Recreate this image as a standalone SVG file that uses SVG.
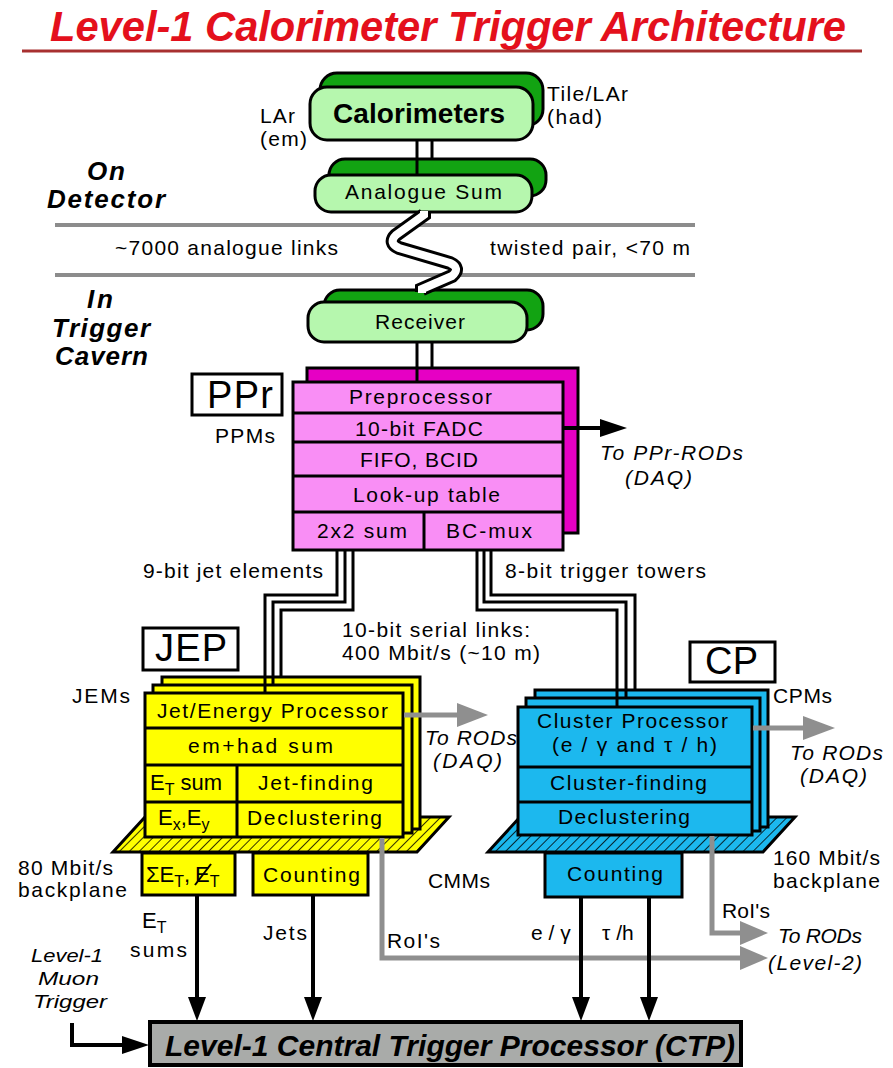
<svg xmlns="http://www.w3.org/2000/svg" width="893" height="1068" viewBox="0 0 893 1068">
<style>
.s{stroke:#000;stroke-width:3}
.gf{fill:#b6f7ae}.gb{fill:#12a312}
.pf{fill:#f98ef5}.pb{fill:#e600c4}
.ye{fill:#ffff00}.cy{fill:#1cb8ee}
.t{font-family:"Liberation Sans",Arial,Helvetica,sans-serif;font-size:21px;fill:#000}
.it{font-style:italic}.bd{font-weight:bold}
.big{font-size:38px}
.zn{font-size:26px}
.mu{font-size:18px}
.ln{fill:none;stroke:#000;stroke-width:3}
.ga{fill:none;stroke:#8f8f8f;stroke-width:5}
.gh{fill:#8f8f8f}
.ba{fill:none;stroke:#000;stroke-width:4}
.sub{font-size:16px}
</style>
<defs>
<pattern id="hy" width="7" height="7" patternUnits="userSpaceOnUse" patternTransform="rotate(45)"><rect width="7" height="7" fill="#ffff00"/><line x1="0" y1="0" x2="0" y2="7" stroke="#000" stroke-width="1.6"/></pattern>
<pattern id="hc" width="7" height="7" patternUnits="userSpaceOnUse" patternTransform="rotate(45)"><rect width="7" height="7" fill="#1cb8ee"/><line x1="0" y1="0" x2="0" y2="7" stroke="#000" stroke-width="1.6"/></pattern>
</defs>
<rect width="893" height="1068" fill="#fff"/>

<g id="title">
<text class="t it bd" x="50" y="41" textLength="796" lengthAdjust="spacingAndGlyphs" style="fill:#e4101c;font-size:43px">Level-1 Calorimeter Trigger Architecture</text>
<line x1="22" y1="51" x2="862" y2="51" stroke="#a83030" stroke-width="3"/>
</g>

<g id="zones">
<line x1="55" y1="225" x2="695" y2="225" stroke="#8c8c8c" stroke-width="4"/>
<line x1="55" y1="275" x2="695" y2="275" stroke="#8c8c8c" stroke-width="4"/>
<text class="t it bd zn" x="87" y="180" textLength="38">On</text>
<text class="t it bd zn" x="47" y="208" textLength="118">Detector</text>
<text class="t" x="115" y="255" textLength="223">~7000 analogue links</text>
<text class="t" x="490" y="255" textLength="200">twisted pair, &lt;70 m</text>
<text class="t it bd zn" x="87" y="308" textLength="26">In</text>
<text class="t it bd zn" x="52" y="337" textLength="98">Trigger</text>
<text class="t it bd zn" x="55" y="365" textLength="93">Cavern</text>
</g>

<g id="calorimeters">
<rect class="s gb" x="320" y="73" width="223" height="53" rx="17"/>
<rect class="s gf" x="310" y="87" width="223" height="53" rx="17"/>
<text class="t bd" x="333" y="123" textLength="172" style="font-size:28px">Calorimeters</text>
<text class="t" x="260" y="123" textLength="35">LAr</text>
<text class="t" x="260" y="146" textLength="47">(em)</text>
<text class="t" x="547" y="101" textLength="81">Tile/LAr</text>
<text class="t" x="547" y="124" textLength="55">(had)</text>
</g>

<g id="analogue-sum">
<rect class="s gb" x="329" y="159" width="217" height="37" rx="16"/>
<rect class="s gf" x="315" y="175" width="217" height="37" rx="16"/>
<text class="t" x="345" y="199" textLength="157">Analogue Sum</text>
</g>

<g id="receiver">
<rect class="s gb" x="324" y="290" width="219" height="40" rx="16"/>
<rect class="s gf" x="308" y="302" width="219" height="40" rx="16"/>
<text class="t" x="375" y="329" textLength="90">Receiver</text>
</g>

<g id="ppr">
<rect class="s" x="192" y="374" width="90" height="41" fill="#fff"/>
<text class="t big" x="207" y="408" textLength="66">PPr</text>
<text class="t" x="215" y="443" textLength="60">PPMs</text>
<rect class="s pb" x="307" y="368" width="271" height="165"/>
<rect class="s pf" x="293" y="382" width="270" height="168"/>
<line class="s" x1="293" y1="413" x2="563" y2="413"/>
<line class="s" x1="293" y1="442" x2="563" y2="442"/>
<line class="s" x1="293" y1="476" x2="563" y2="476"/>
<line class="s" x1="293" y1="512" x2="563" y2="512"/>
<line class="s" x1="424" y1="512" x2="424" y2="550"/>
<text class="t" x="349" y="404" textLength="143">Preprocessor</text>
<text class="t" x="355" y="436" textLength="128">10-bit FADC</text>
<text class="t" x="360" y="467" textLength="118">FIFO, BCID</text>
<text class="t" x="353" y="502" textLength="147">Look-up table</text>
<text class="t" x="317" y="538" textLength="90">2x2 sum</text>
<text class="t" x="446" y="538" textLength="86">BC-mux</text>
<text class="t it" x="600" y="460" textLength="143">To PPr-RODs</text>
<text class="t it" x="625" y="485" textLength="67">(DAQ)</text>
</g>

<g id="link-labels">
<text class="t" x="143" y="578" textLength="180">9-bit jet elements</text>
<text class="t" x="505" y="578" textLength="201">8-bit trigger towers</text>
<text class="t" x="342" y="637" textLength="188">10-bit serial links:</text>
<text class="t" x="342" y="660" textLength="198">400 Mbit/s  (~10 m)</text>
</g>

<g id="jep">
<rect class="s" x="143" y="628" width="95" height="42" fill="#fff"/>
<text class="t big" x="155" y="661" textLength="72">JEP</text>
<text class="t" x="72" y="703" textLength="58">JEMs</text>
<polygon class="s" points="113,852 417,852 449,817 145,817" fill="url(#hy)"/>
<rect class="s ye" x="162" y="677" width="258" height="152"/>
<rect class="s ye" x="153" y="685" width="259" height="148"/>
<rect class="s ye" x="145" y="693" width="258" height="144"/>
<line class="s" x1="145" y1="728" x2="403" y2="728"/>
<line class="s" x1="145" y1="765" x2="403" y2="765"/>
<line class="s" x1="145" y1="802" x2="403" y2="802"/>
<line class="s" x1="237" y1="765" x2="237" y2="837"/>
<text class="t" x="157" y="718" textLength="231">Jet/Energy Processor</text>
<text class="t" x="188" y="753" textLength="145">em+had  sum</text>
<text class="t" x="150" y="790" style="font-size:22px">E<tspan class="sub" dy="5">T</tspan><tspan dy="-5" dx="6">sum</tspan></text>
<text class="t" x="258" y="790" textLength="115">Jet-finding</text>
<text class="t" x="158" y="825" style="font-size:22px">E<tspan class="sub" dy="5">x</tspan><tspan dy="-5">,E</tspan><tspan class="sub" dy="5">y</tspan></text>
<text class="t" x="247" y="825" textLength="135">Declustering</text>
<rect class="s ye" x="142" y="853" width="93" height="42"/>
<rect class="s ye" x="253" y="853" width="115" height="42"/>
<text class="t" x="146" y="882" style="font-size:22px">ΣE<tspan class="sub" dy="5">T</tspan><tspan dy="-5">,</tspan></text>
<text class="t" x="195" y="882" style="font-size:22px">E<tspan class="sub" dy="5">T</tspan></text>
<line x1="195" y1="885" x2="211" y2="864" stroke="#000" stroke-width="2"/>
<text class="t" x="263" y="882" textLength="97">Counting</text>
<text class="t" x="18" y="875" textLength="95">80 Mbit/s</text>
<text class="t" x="18" y="897" textLength="109">backplane</text>
<text class="t it" x="425" y="745" textLength="92">To RODs</text>
<text class="t it" x="433" y="768" textLength="69">(DAQ)</text>
</g>

<g id="cp">
<rect class="s" x="690" y="642" width="85" height="40" fill="#fff"/>
<text class="t big" x="705" y="674" textLength="53">CP</text>
<text class="t" x="773" y="703" textLength="59">CPMs</text>
<polygon class="s" points="488,852 763,852 795,817 520,817" fill="url(#hc)"/>
<rect class="s cy" x="535" y="690" width="233" height="137"/>
<rect class="s cy" x="526" y="698" width="234" height="133"/>
<rect class="s cy" x="518" y="707" width="234" height="128"/>
<line class="s" x1="518" y1="767" x2="752" y2="767"/>
<line class="s" x1="518" y1="802" x2="752" y2="802"/>
<text class="t" x="537" y="728" textLength="191">Cluster Processor</text>
<text class="t" x="552" y="752" textLength="165">(e / γ  and τ / h)</text>
<text class="t" x="550" y="790" textLength="157">Cluster-finding</text>
<text class="t" x="558" y="824" textLength="132">Declustering</text>
<rect class="s cy" x="545" y="853" width="137" height="44"/>
<text class="t" x="567" y="881" textLength="96">Counting</text>
<text class="t" x="428" y="888" textLength="62">CMMs</text>
<text class="t" x="773" y="865" textLength="107">160 Mbit/s</text>
<text class="t" x="773" y="888" textLength="107">backplane</text>
<text class="t it" x="790" y="760" textLength="93">To RODs</text>
<text class="t it" x="800" y="783" textLength="67">(DAQ)</text>
</g>

<g id="level2-labels">
<text class="t" x="722" y="918" textLength="48">RoI's</text>
<text class="t" x="387" y="948" textLength="53">RoI's</text>
<text class="t it" x="778" y="943" textLength="84">To RODs</text>
<text class="t it" x="768" y="970" textLength="94">(Level-2)</text>
</g>

<g id="output-labels">
<text class="t" x="142" y="928" style="font-size:22px">E<tspan class="sub" dy="5">T</tspan></text>
<text class="t" x="130" y="957" textLength="57">sums</text>
<text class="t" x="263" y="940" textLength="44">Jets</text>
<text class="t" x="531" y="940">e / γ</text>
<text class="t" x="602" y="940">τ /h</text>
</g>

<g id="muon">
<text class="t it mu" x="31" y="962" textLength="72" lengthAdjust="spacingAndGlyphs">Level-1</text>
<text class="t it mu" x="38" y="985" textLength="61" lengthAdjust="spacingAndGlyphs">Muon</text>
<text class="t it mu" x="33" y="1008" textLength="74" lengthAdjust="spacingAndGlyphs">Trigger</text>
</g>

<g id="ctp">
<rect x="150" y="1022" width="591" height="43" fill="#a9aba9" stroke="#000" stroke-width="4"/>
<text class="t it bd" x="165" y="1056" textLength="570" style="font-size:30px">Level-1 Central Trigger Processor (CTP)</text>
</g>

<g id="connectors">
<line class="ln" x1="417" y1="140" x2="417" y2="175"/>
<line class="ln" x1="432" y1="140" x2="432" y2="159"/>
<path d="M424 212 L424 215 L396 235 Q388 243 399 248 L450 263 Q461 268 452 276 L422 289 L422 292" fill="none" stroke="#000" stroke-width="14"/>
<path d="M424 211 L424 215 L396 235 Q388 243 399 248 L450 263 Q461 268 452 276 L422 289 L422 293" fill="none" stroke="#fff" stroke-width="8"/>
<line class="ln" x1="417" y1="342" x2="417" y2="382"/>
<line class="ln" x1="432" y1="342" x2="432" y2="368"/>
<path class="ln" d="M337 551 V595 H265 V693"/>
<path class="ln" d="M345 551 V602 H273 V685"/>
<path class="ln" d="M353 551 V610 H281 V677"/>
<path class="ln" d="M477 551 V610 H617 V707"/>
<path class="ln" d="M484 551 V602 H626 V698"/>
<path class="ln" d="M491 551 V595 H635 V690"/>
<line x1="564" y1="428" x2="602" y2="428" stroke="#000" stroke-width="4"/>
<polygon points="600,419 627,428 600,437" fill="#000"/>
<line class="ga" x1="404" y1="715" x2="460" y2="715"/>
<polygon class="gh" points="457,703 488,715 457,727"/>
<line class="ga" x1="753" y1="728" x2="806" y2="728"/>
<polygon class="gh" points="803,716 835,728 803,740"/>
<path class="ga" d="M382 838 V958 H742"/>
<polygon class="gh" points="740,946 768,958 740,970"/>
<path class="ga" d="M712 836 V933 H742"/>
<polygon class="gh" points="740,921 768,933 740,945"/>
<line class="ba" x1="197" y1="896" x2="197" y2="1000"/>
<polygon points="188,997 197,1021 206,997" fill="#000"/>
<line class="ba" x1="313" y1="896" x2="313" y2="1000"/>
<polygon points="304,997 313,1021 322,997" fill="#000"/>
<line class="ba" x1="581" y1="898" x2="581" y2="1000"/>
<polygon points="572,997 581,1021 590,997" fill="#000"/>
<line class="ba" x1="649" y1="898" x2="649" y2="1000"/>
<polygon points="640,997 649,1021 658,997" fill="#000"/>
<path class="ba" d="M72 1023 V1045 H124"/>
<polygon points="122,1036 149,1045 122,1054" fill="#000"/>
</g>
</svg>
